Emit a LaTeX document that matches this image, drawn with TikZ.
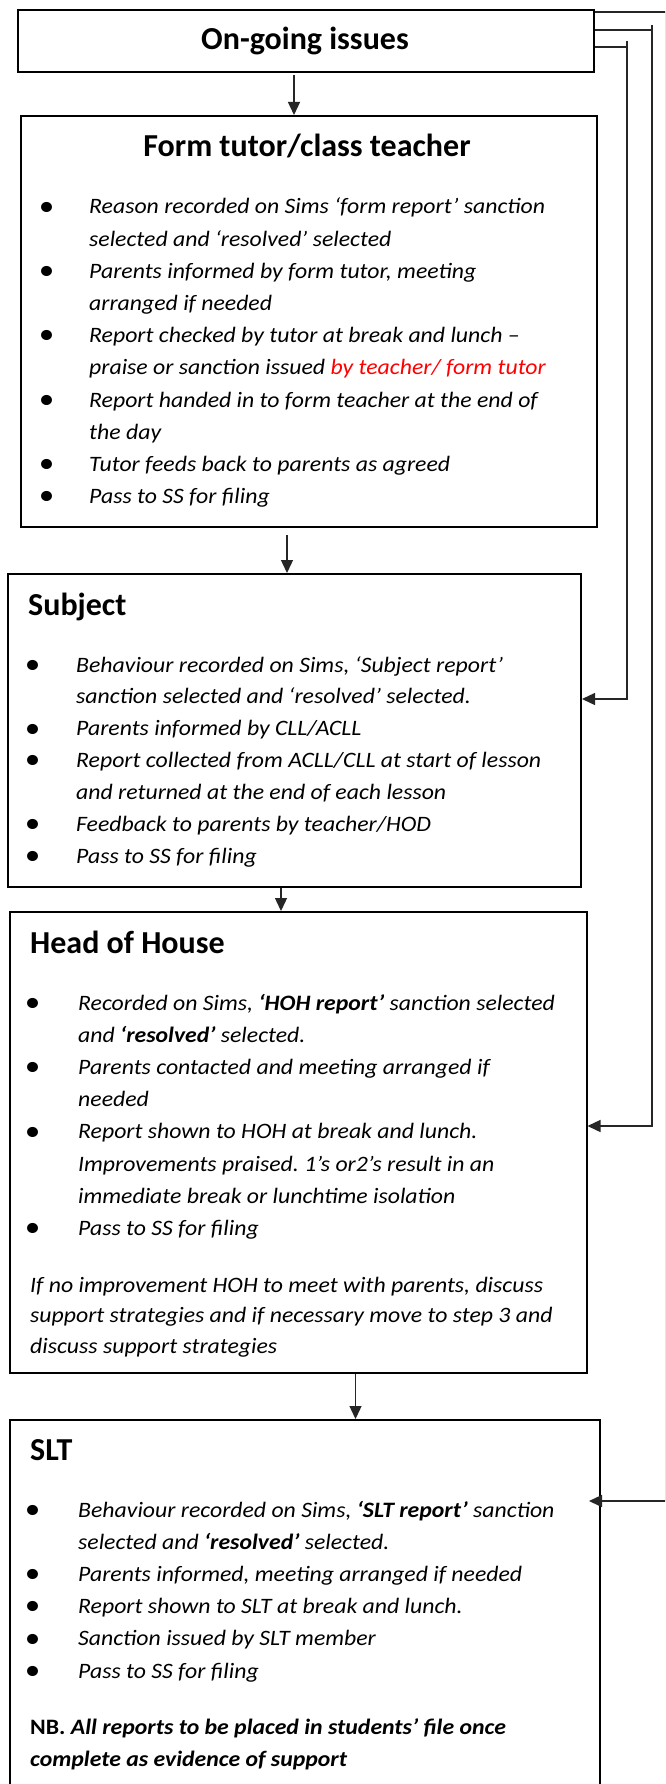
\documentclass[tikz,border=0pt]{standalone}
\usepackage{fontspec}
\setmainfont{Carlito}
\newfontfamily\bodyfam{Carlito}[FakeStretch=1.08]
\usetikzlibrary{arrows.meta,calc}
\newcommand{\mybul}{\raisebox{-1.2pt}{\scalebox{1.3}{\textbullet}}}
\newcommand{\bitem}[3]{\par\noindent\hangindent=#2\hangafter=1\makebox[0pt][l]{\hspace*{#1}\makebox[0pt][c]{\mybul}}\hspace*{#2}#3\par}
\newcommand{\bodyfont}{\bodyfam\fontsize{22pt}{32.2pt}\selectfont\itshape\frenchspacing}
\newcommand{\titlefont}{\fontsize{32pt}{36pt}\selectfont\bfseries}
\definecolor{redtxt}{HTML}{FF0000}
\begin{document}
\begin{tikzpicture}[x=1pt,y=-1pt,
  box/.style={draw=black,line width=2pt,inner sep=0pt,anchor=north west},
  txt/.style={anchor=base west,inner sep=0pt},
  ttl/.style={inner sep=0pt,font=\titlefont},
  conn/.style={draw=black!85,line width=1.3pt},
  arr/.style={conn,-{Triangle[length=13pt,width=12pt]}}]
\useasboundingbox (0,0) rectangle (665,1784);
\clip (0,0) rectangle (665,1784);
\fill[white] (0,0) rectangle (665,1784);

% boxes
\node[box,minimum width=576pt,minimum height=62pt] (ongoing) at (17,9) {};
\node[box,minimum width=576pt,minimum height=411pt] (form) at (20,115) {};
\node[box,minimum width=573pt,minimum height=313pt] (subject) at (7,573) {};
\node[box,minimum width=577pt,minimum height=461pt] (hoh) at (8.5,911) {};
\node[box,minimum width=590pt,minimum height=400pt] (slt) at (9,1419) {};

% titles
\node[ttl,anchor=base] (ongoingT) at (305,50) {On-going issues};
\node[ttl,anchor=base] (formT) at (307,157) {Form tutor/class teacher};
\node[ttl,anchor=base west] (subjectT) at (28,615) {Subject};
\node[ttl,anchor=base west] (hohT) at (30,953) {Head of House};
\node[ttl,anchor=base west] (sltT) at (30,1460) {SLT};

% form items
\node[txt] (formL) at (0,214) {\parbox[t]{660pt}{\bodyfont\raggedright
\bitem{46pt}{89pt}{Reason recorded on Sims ‘form report’ sanction\newline selected and ‘resolved’ selected}
\bitem{46pt}{89pt}{Parents informed by form tutor, meeting\newline arranged if needed}
\bitem{46pt}{89pt}{Report checked by tutor at break and lunch –\newline praise or sanction issued \textcolor{redtxt}{by teacher/ form tutor}}
\bitem{46pt}{89pt}{Report handed in to form teacher at the end of\newline the day}
\bitem{46pt}{89pt}{Tutor feeds back to parents as agreed}
\bitem{46pt}{89pt}{Pass to SS for filing}}};

% subject items
\node[txt] (subjectL) at (0,672) {\parbox[t]{660pt}{\bodyfont\raggedright\baselineskip=31.9pt
\bitem{32pt}{76pt}{Behaviour recorded on Sims, ‘Subject report’\newline sanction selected and ‘resolved’ selected.}
\bitem{32pt}{76pt}{Parents informed by CLL/ACLL}
\bitem{32pt}{76pt}{Report collected from ACLL/CLL at start of lesson\newline and returned at the end of each lesson}
\bitem{32pt}{76pt}{Feedback to parents by teacher/HOD}
\bitem{32pt}{76pt}{Pass to SS for filing}}};

% hoh items
\node[txt] (hohL) at (0,1010) {\parbox[t]{660pt}{\bodyfont\raggedright
\bitem{32pt}{78pt}{Recorded on Sims, \textbf{‘HOH report’} sanction selected\newline and \textbf{‘resolved’} selected.}
\bitem{32pt}{78pt}{Parents contacted and meeting arranged if\newline needed}
\bitem{32pt}{78pt}{Report shown to HOH at break and lunch.\newline Improvements praised. 1’s or2’s result in an\newline immediate break or lunchtime isolation}
\bitem{32pt}{78pt}{Pass to SS for filing}}};
\node[txt] (hohP) at (30,1292) {\parbox[t]{630pt}{\bodyfont\raggedright\baselineskip=30.5pt
If no improvement HOH to meet with parents, discuss\newline support strategies and if necessary move to step 3 and\newline discuss support strategies}};

% slt items
\node[txt] (sltL) at (0,1517) {\parbox[t]{660pt}{\bodyfont\raggedright
\bitem{32pt}{78pt}{Behaviour recorded on Sims, \textbf{‘SLT report’} sanction\newline selected and \textbf{‘resolved’} selected.}
\bitem{32pt}{78pt}{Parents informed, meeting arranged if needed}
\bitem{32pt}{78pt}{Report shown to SLT at break and lunch.}
\bitem{32pt}{78pt}{Sanction issued by SLT member}
\bitem{32pt}{78pt}{Pass to SS for filing}}};
\node[txt] (sltP) at (30,1734) {\parbox[t]{630pt}{\bodyfont\raggedright
{\upshape\bfseries NB.} \textbf{All reports to be placed in students’ file once\newline complete as evidence of support}}};

% vertical flow arrows
\coordinate (x1) at (294,0);
\coordinate (x2) at (287,0);
\coordinate (x3) at (281,0);
\coordinate (x4) at (355.5,0);
\draw[arr] ([yshift=-2pt]ongoing.south -| x1) -- (form.north -| x1);
\draw[arr] ([yshift=-7pt]form.south -| x2) -- (subject.north -| x2);
\draw[arr] (subject.south -| x3) -- (hoh.north -| x3);
\draw[arr] (hoh.south -| x4) -- (slt.north -| x4);

% right-hand loops
\coordinate (r1) at (666,12);
\coordinate (r1b) at (666,1501);
\coordinate (r2) at (652,30);
\coordinate (r2t) at (652,25);
\coordinate (r2b) at (652,1126);
\coordinate (r3) at (627,47);
\coordinate (r3t) at (627,41);
\coordinate (r3b) at (627,699);
\draw[conn] (ongoing.east |- r1) -- (r1);
\draw[arr] (r1) -- (r1b) -- ([xshift=-12pt]slt.east |- r1b);
\draw[conn] (ongoing.east |- r2) -- (r2);
\draw[arr] (r2t) -- (r2b) -- (hoh.east |- r2b);
\draw[conn] (ongoing.east |- r3) -- (r3);
\draw[arr] (r3t) -- (r3b) -- (subject.east |- r3b);
\end{tikzpicture}
\end{document}
